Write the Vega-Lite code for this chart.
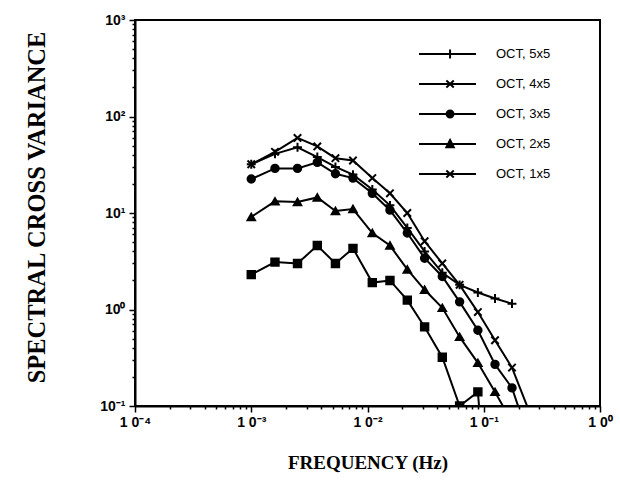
{
  "$schema": "https://vega.github.io/schema/vega-lite/v6.json",
  "width": 465,
  "height": 386,
  "autosize": {"type": "none"},
  "padding": {"left": 135, "top": 20, "right": 20, "bottom": 85},
  "background": "white",
  "config": {
    "view": {"stroke": "black", "strokeWidth": 2},
    "axis": {
      "grid": false,
      "domainColor": "black",
      "domainWidth": 2,
      "tickColor": "black",
      "tickWidth": 1.5,
      "labelColor": "black",
      "labelFont": "Liberation Sans",
      "labelFontWeight": "bold",
      "labelFontSize": 14,
      "labelOverlap": false,
      "labelFlush": false,
      "titleColor": "black",
      "titleFont": "Liberation Serif",
      "titleFontWeight": "bold"
    },
    "legend": {"symbolOpacity": 1}
  },
  "data": {
    "values": [
      {"series": "OCT, 5x5", "f": 0.001, "v": 32},
      {"series": "OCT, 5x5", "f": 0.0016, "v": 41},
      {"series": "OCT, 5x5", "f": 0.0025, "v": 48},
      {"series": "OCT, 5x5", "f": 0.0037, "v": 38},
      {"series": "OCT, 5x5", "f": 0.0053, "v": 30},
      {"series": "OCT, 5x5", "f": 0.0075, "v": 25},
      {"series": "OCT, 5x5", "f": 0.011, "v": 17.5},
      {"series": "OCT, 5x5", "f": 0.0156, "v": 12},
      {"series": "OCT, 5x5", "f": 0.022, "v": 7},
      {"series": "OCT, 5x5", "f": 0.031, "v": 4},
      {"series": "OCT, 5x5", "f": 0.044, "v": 2.4},
      {"series": "OCT, 5x5", "f": 0.062, "v": 1.8},
      {"series": "OCT, 5x5", "f": 0.089, "v": 1.5},
      {"series": "OCT, 5x5", "f": 0.125, "v": 1.3},
      {"series": "OCT, 5x5", "f": 0.175, "v": 1.15},

      {"series": "OCT, 4x5", "f": 0.001, "v": 32},
      {"series": "OCT, 4x5", "f": 0.0016, "v": 43},
      {"series": "OCT, 4x5", "f": 0.0025, "v": 60},
      {"series": "OCT, 4x5", "f": 0.0037, "v": 49},
      {"series": "OCT, 4x5", "f": 0.0053, "v": 37},
      {"series": "OCT, 4x5", "f": 0.0075, "v": 35},
      {"series": "OCT, 4x5", "f": 0.011, "v": 23},
      {"series": "OCT, 4x5", "f": 0.0156, "v": 16},
      {"series": "OCT, 4x5", "f": 0.022, "v": 10},
      {"series": "OCT, 4x5", "f": 0.031, "v": 5.1},
      {"series": "OCT, 4x5", "f": 0.044, "v": 3.0},
      {"series": "OCT, 4x5", "f": 0.062, "v": 1.8},
      {"series": "OCT, 4x5", "f": 0.089, "v": 0.94},
      {"series": "OCT, 4x5", "f": 0.125, "v": 0.48},
      {"series": "OCT, 4x5", "f": 0.175, "v": 0.25},
      {"series": "OCT, 4x5", "f": 0.245, "v": 0.089},

      {"series": "OCT, 3x5", "f": 0.001, "v": 22.5},
      {"series": "OCT, 3x5", "f": 0.0016, "v": 29},
      {"series": "OCT, 3x5", "f": 0.0025, "v": 29},
      {"series": "OCT, 3x5", "f": 0.0037, "v": 33.5},
      {"series": "OCT, 3x5", "f": 0.0053, "v": 25.5},
      {"series": "OCT, 3x5", "f": 0.0075, "v": 23},
      {"series": "OCT, 3x5", "f": 0.011, "v": 16},
      {"series": "OCT, 3x5", "f": 0.0156, "v": 10.7},
      {"series": "OCT, 3x5", "f": 0.022, "v": 6.2},
      {"series": "OCT, 3x5", "f": 0.031, "v": 3.4},
      {"series": "OCT, 3x5", "f": 0.044, "v": 2.2},
      {"series": "OCT, 3x5", "f": 0.062, "v": 1.2},
      {"series": "OCT, 3x5", "f": 0.089, "v": 0.61},
      {"series": "OCT, 3x5", "f": 0.125, "v": 0.27},
      {"series": "OCT, 3x5", "f": 0.175, "v": 0.154},
      {"series": "OCT, 3x5", "f": 0.245, "v": 0.046},

      {"series": "OCT, 2x5", "f": 0.001, "v": 9.1},
      {"series": "OCT, 2x5", "f": 0.0016, "v": 13.2},
      {"series": "OCT, 2x5", "f": 0.0025, "v": 13},
      {"series": "OCT, 2x5", "f": 0.0037, "v": 14.5},
      {"series": "OCT, 2x5", "f": 0.0053, "v": 10.5},
      {"series": "OCT, 2x5", "f": 0.0075, "v": 11},
      {"series": "OCT, 2x5", "f": 0.011, "v": 6.2},
      {"series": "OCT, 2x5", "f": 0.0156, "v": 4.6},
      {"series": "OCT, 2x5", "f": 0.022, "v": 2.6},
      {"series": "OCT, 2x5", "f": 0.031, "v": 1.6},
      {"series": "OCT, 2x5", "f": 0.044, "v": 1.04},
      {"series": "OCT, 2x5", "f": 0.062, "v": 0.52},
      {"series": "OCT, 2x5", "f": 0.089, "v": 0.28},
      {"series": "OCT, 2x5", "f": 0.125, "v": 0.14},
      {"series": "OCT, 2x5", "f": 0.175, "v": 0.068},

      {"series": "OCT, 1x5", "f": 0.001, "v": 2.3},
      {"series": "OCT, 1x5", "f": 0.0016, "v": 3.1},
      {"series": "OCT, 1x5", "f": 0.0025, "v": 3.0},
      {"series": "OCT, 1x5", "f": 0.0037, "v": 4.6},
      {"series": "OCT, 1x5", "f": 0.0053, "v": 3.0},
      {"series": "OCT, 1x5", "f": 0.0075, "v": 4.3},
      {"series": "OCT, 1x5", "f": 0.011, "v": 1.9},
      {"series": "OCT, 1x5", "f": 0.0156, "v": 2.0},
      {"series": "OCT, 1x5", "f": 0.022, "v": 1.25},
      {"series": "OCT, 1x5", "f": 0.031, "v": 0.66},
      {"series": "OCT, 1x5", "f": 0.044, "v": 0.32},
      {"series": "OCT, 1x5", "f": 0.062, "v": 0.1},
      {"series": "OCT, 1x5", "f": 0.089, "v": 0.14},
      {"series": "OCT, 1x5", "f": 0.125, "v": 0.001}
    ]
  },
  "encoding": {
    "x": {
      "field": "f",
      "type": "quantitative",
      "scale": {"type": "log", "domain": [0.0001, 1]},
      "axis": {
        "title": "FREQUENCY (Hz)",
        "titleFontSize": 19,
        "titlePadding": 24,
        "labelPadding": 3,
        "values": [0.0001,0.0002,0.0003,0.0004,0.0005,0.0006,0.0007,0.0008,0.0009,0.001,0.002,0.003,0.004,0.005,0.006,0.007,0.008,0.009,0.01,0.02,0.03,0.04,0.05,0.06,0.07,0.08,0.09,0.1,0.2,0.3,0.4,0.5,0.6,0.7,0.8,0.9,1],
        "labelExpr": "abs(log(datum.value)/LN10 - round(log(datum.value)/LN10)) < 0.000001 ? '1 0' + ['⁻⁴','⁻³','⁻²','⁻¹','⁰'][round(log(datum.value)/LN10)+4] : ''",
        "tickSize": {"condition": {"test": "abs(log(datum.value)/LN10 - round(log(datum.value)/LN10)) < 0.000001", "value": 6}, "value": 3}
      }
    },
    "y": {
      "field": "v",
      "type": "quantitative",
      "scale": {"type": "log", "domain": [0.1, 1000]},
      "axis": {
        "title": "SPECTRAL CROSS VARIANCE",
        "titleFontSize": 24.5,
        "titlePadding": 50,
        "titleY": 187,
        "labelPadding": 4,
        "values": [0.1,0.2,0.3,0.4,0.5,0.6,0.7,0.8,0.9,1,2,3,4,5,6,7,8,9,10,20,30,40,50,60,70,80,90,100,200,300,400,500,600,700,800,900,1000],
        "labelExpr": "abs(log(datum.value)/LN10 - round(log(datum.value)/LN10)) < 0.000001 ? '10' + ['⁻¹','⁰','¹','²','³'][round(log(datum.value)/LN10)+1] : ''",
        "tickSize": {"condition": {"test": "abs(log(datum.value)/LN10 - round(log(datum.value)/LN10)) < 0.000001", "value": 6}, "value": 3}
      }
    }
  },
  "layer": [
    {
      "mark": {"type": "line", "color": "black", "strokeWidth": 2, "clip": true},
      "encoding": {"detail": {"field": "series", "type": "nominal"}}
    },
    {
      "mark": {"type": "point", "filled": true, "color": "black", "stroke": "black", "strokeWidth": 2, "opacity": 1, "size": 55, "clip": true},
      "encoding": {
        "shape": {
          "field": "series",
          "type": "nominal",
          "scale": {
            "domain": ["OCT, 5x5", "OCT, 4x5", "OCT, 3x5", "OCT, 2x5", "OCT, 1x5"],
            "range": ["M-1.2,0H1.2M0,-1.2V1.2", "M-1,-1L1,1M-1,1L1,-1", "circle", "triangle-up", "square"]
          },
          "legend": null
        }
      }
    },
    {
      "transform": [{"filter": "datum.f == 0.001"}],
      "mark": {"type": "point", "filled": false, "color": "black", "strokeWidth": 2, "opacity": 0, "size": 3249, "clip": true},
      "encoding": {
        "shape": {
          "field": "series",
          "type": "nominal",
          "scale": {
            "domain": ["OCT, 5x5", "OCT, 4x5", "OCT, 3x5", "OCT, 2x5", "OCT, 1x5"],
            "range": [
              "M-1,0H1M0.09,-0.16V0.16",
              "M-1,0H1M-0.04,-0.12L0.22,0.12M-0.04,0.12L0.22,-0.12",
              "M-1,0H1M0.21,0A0.12,0.12 0 1 1 -0.03,0A0.12,0.12 0 1 1 0.21,0M0.16,0A0.07,0.07 0 1 1 0.02,0A0.07,0.07 0 1 1 0.16,0M0.115,0A0.025,0.025 0 1 1 0.065,0A0.025,0.025 0 1 1 0.115,0",
              "M-1,0H1M0.09,-0.14L0.22,0.11L-0.04,0.11ZM0.09,-0.05L0.15,0.07L0.03,0.07ZM0.09,0.02V0.06",
              "M-1,0H1M-0.04,-0.12L0.22,0.12M-0.04,0.12L0.22,-0.12"
            ]
          },
          "legend": {
            "orient": "none",
            "legendX": 283,
            "legendY": 28,
            "title": null,
            "symbolSize": 3249,
            "clipHeight": 12,
            "rowPadding": 17,
            "labelOffset": 19,
            "labelFont": "Liberation Sans",
            "labelFontSize": 13,
            "labelColor": "black",
            "symbolStrokeWidth": 2,
            "symbolOpacity": 1
          }
        }
      }
    }
  ],
  "resolve": {"scale": {"shape": "independent"}, "legend": {"shape": "independent"}}
}
